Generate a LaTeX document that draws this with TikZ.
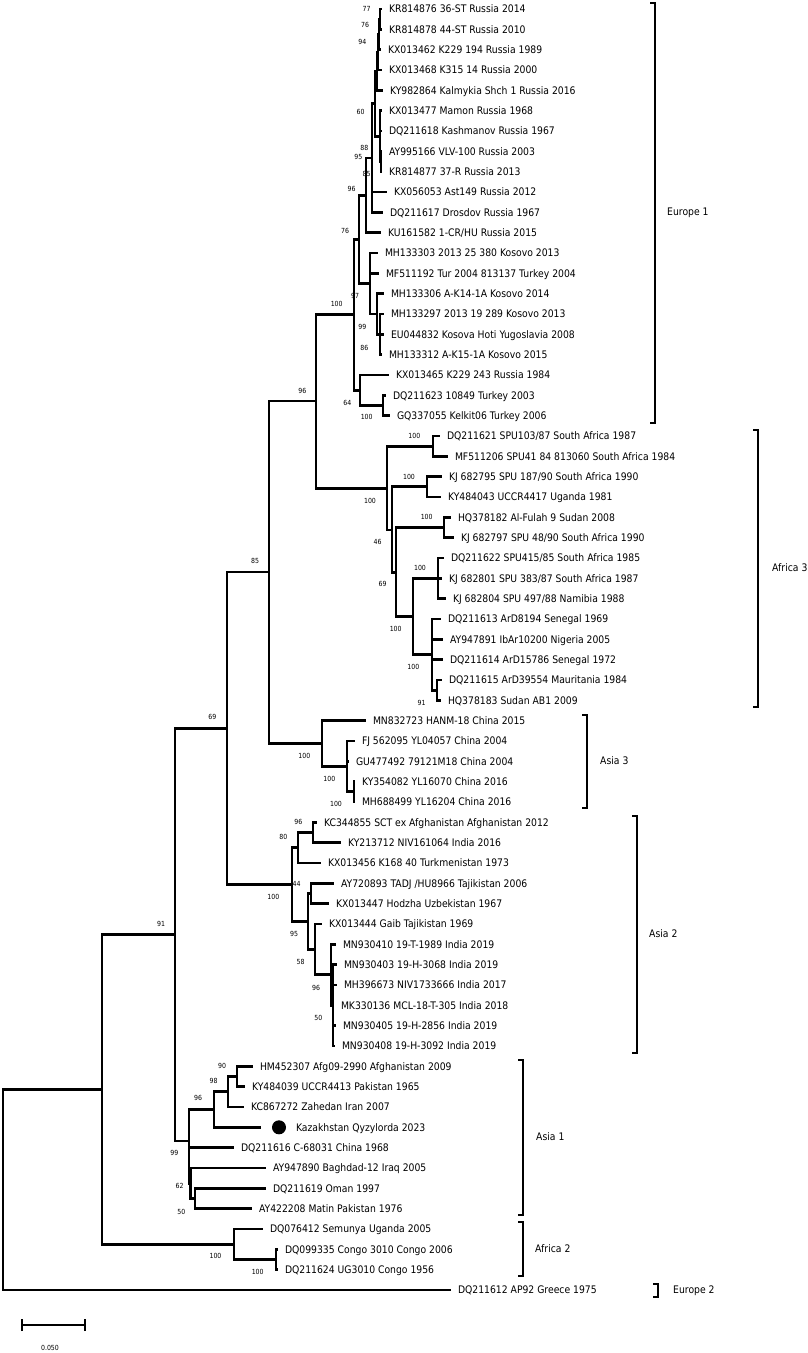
\documentclass[tikz,border=0pt]{standalone}
\usepackage{fontspec}
\newfontfamily\dvsans{DejaVu Sans}[FakeStretch=0.89]
\newcommand\treefont{\dvsans\fontsize{10.4}{12}\selectfont}
\newcommand\bootfont{\dvsans\fontsize{7}{8}\selectfont}
\newcommand\ly[1]{(9+20.333*(#1-1))}
\tikzset{
  leaf/.style={anchor=west, inner xsep=0pt, inner ysep=0pt, outer xsep=7.5pt, outer ysep=0pt,
    font=\treefont, text height=7.6pt, text depth=0pt},
  boot/.style={font=\bootfont, inner sep=0pt},
  branch/.style={line width=2.9pt},
  bracket/.style={line width=2.9pt},
  cladelab/.style={anchor=west, inner sep=0pt, font=\treefont, text height=7.6pt, text depth=0pt},
  kzdot/.style={circle, fill=black, inner sep=0pt, minimum size=14pt}
}
\begin{document}
\begin{tikzpicture}[x=1pt,y=-1pt]
\useasboundingbox (0,0) rectangle (808,1353);
\fill[white] (0,0) rectangle (808,1353);

% internal nodes
\coordinate (root) at (3,1189.7);
\coordinate (nR1) at (102,1089.5);
\coordinate (n91) at (175,934.7);
\coordinate (n69) at (227,728.3);
\coordinate (n85) at (269,572);
\coordinate (n96) at (316,401);
\coordinate (nE1) at (354,314.8);
\coordinate (nE76) at (359,239.4);
\coordinate (nE96d) at (366,195.4);
\coordinate (nE85) at (372,158);
\coordinate (nEA) at (375,103.7);
\coordinate (nS1) at (377,71.3);
\coordinate (nE94) at (378,52.2);
\coordinate (nE76b) at (379,34.4);
\coordinate (nE77) at (380,19.2);
\coordinate (nS2) at (380,136.1);
\coordinate (nE88) at (381,161.5);
\coordinate (nE97) at (370,283.5);
\coordinate (nK1) at (377,314);
\coordinate (nK2) at (380,334.3);
\coordinate (nE64) at (360,390.2);
\coordinate (nE100) at (383,405.5);
\coordinate (nAf3) at (387,488.1);
\coordinate (nA100a) at (433,446.2);
\coordinate (nA46) at (392,530);
\coordinate (nA100b) at (427,486.8);
\coordinate (nA69) at (396,572.5);
\coordinate (nA100c) at (444,527.5);
\coordinate (nA100x) at (413,616.5);
\coordinate (nA100d) at (438,578.3);
\coordinate (nA100e) at (432,654.6);
\coordinate (nA91) at (437,690.2);
\coordinate (nAs3) at (322,743.5);
\coordinate (nA3b) at (347,766.4);
\coordinate (nA3c) at (354,791.8);
\coordinate (nAs2) at (292,884.6);
\coordinate (nA80) at (298,847.7);
\coordinate (nA96) at (313,832.5);
\coordinate (nA95) at (308,921.5);
\coordinate (nA44) at (311,893.5);
\coordinate (nA58) at (315,949.4);
\coordinate (nA96b) at (331,974.8);
\coordinate (nA50) at (333,1005.3);
\coordinate (nAs1) at (189,1141);
\coordinate (nB96) at (214,1109.5);
\coordinate (nB98) at (228,1091.8);
\coordinate (nB90) at (237,1076.5);
\coordinate (nB62) at (190.5,1183.3);
\coordinate (nB50) at (195,1198.5);
\coordinate (nAf2) at (234,1244.3);
\coordinate (nC100) at (276,1259.5);

% leaves
\node[leaf] (L1) at (381.5,{\ly{1}}) {KR814876 36-ST Russia 2014};
\node[leaf] (L2) at (381.5,{\ly{2}}) {KR814878 44-ST Russia 2010};
\node[leaf] (L3) at (380.5,{\ly{3}}) {KX013462 K229 194 Russia 1989};
\node[leaf] (L4) at (381.5,{\ly{4}}) {KX013468 K315 14 Russia 2000};
\node[leaf] (L5) at (382.5,{\ly{5}}) {KY982864 Kalmykia Shch 1 Russia 2016};
\node[leaf] (L6) at (381.5,{\ly{6}}) {KX013477 Mamon Russia 1968};
\node[leaf] (L7) at (381.5,{\ly{7}}) {DQ211618 Kashmanov Russia 1967};
\node[leaf] (L8) at (381.5,{\ly{8}}) {AY995166 VLV-100 Russia 2003};
\node[leaf] (L9) at (381.5,{\ly{9}}) {KR814877 37-R Russia 2013};
\node[leaf] (L10) at (386.5,{\ly{10}}) {KX056053 Ast149 Russia 2012};
\node[leaf] (L11) at (382.5,{\ly{11}}) {DQ211617 Drosdov Russia 1967};
\node[leaf] (L12) at (380.5,{\ly{12}}) {KU161582 1-CR/HU Russia 2015};
\node[leaf] (L13) at (377.5,{\ly{13}}) {MH133303 2013 25 380 Kosovo 2013};
\node[leaf] (L14) at (378.5,{\ly{14}}) {MF511192 Tur 2004 813137 Turkey 2004};
\node[leaf] (L15) at (383.5,{\ly{15}}) {MH133306 A-K14-1A Kosovo 2014};
\node[leaf] (L16) at (383.5,{\ly{16}}) {MH133297 2013 19 289 Kosovo 2013};
\node[leaf] (L17) at (383.5,{\ly{17}}) {EU044832 Kosova Hoti Yugoslavia 2008};
\node[leaf] (L18) at (381.5,{\ly{18}}) {MH133312 A-K15-1A Kosovo 2015};
\node[leaf] (L19) at (388.5,{\ly{19}}) {KX013465 K229 243 Russia 1984};
\node[leaf] (L20) at (385.5,{\ly{20}}) {DQ211623 10849 Turkey 2003};
\node[leaf] (L21) at (389.5,{\ly{21}}) {GQ337055 Kelkit06 Turkey 2006};
\node[leaf] (L22) at (439.5,{\ly{22}}) {DQ211621 SPU103/87 South Africa 1987};
\node[leaf] (L23) at (447.5,{\ly{23}}) {MF511206 SPU41 84 813060 South Africa 1984};
\node[leaf] (L24) at (441.5,{\ly{24}}) {KJ 682795 SPU 187/90 South Africa 1990};
\node[leaf] (L25) at (440.5,{\ly{25}}) {KY484043 UCCR4417 Uganda 1981};
\node[leaf] (L26) at (450.5,{\ly{26}}) {HQ378182 Al-Fulah 9 Sudan 2008};
\node[leaf] (L27) at (453.5,{\ly{27}}) {KJ 682797 SPU 48/90 South Africa 1990};
\node[leaf] (L28) at (443.5,{\ly{28}}) {DQ211622 SPU415/85 South Africa 1985};
\node[leaf] (L29) at (441.5,{\ly{29}}) {KJ 682801 SPU 383/87 South Africa 1987};
\node[leaf] (L30) at (445.5,{\ly{30}}) {KJ 682804 SPU 497/88 Namibia 1988};
\node[leaf] (L31) at (440.5,{\ly{31}}) {DQ211613 ArD8194 Senegal 1969};
\node[leaf] (L32) at (442.5,{\ly{32}}) {AY947891 IbAr10200 Nigeria 2005};
\node[leaf] (L33) at (442.5,{\ly{33}}) {DQ211614 ArD15786 Senegal 1972};
\node[leaf] (L34) at (441.5,{\ly{34}}) {DQ211615 ArD39554 Mauritania 1984};
\node[leaf] (L35) at (440.5,{\ly{35}}) {HQ378183 Sudan AB1 2009};
\node[leaf] (L36) at (365.5,{\ly{36}}) {MN832723 HANM-18 China 2015};
\node[leaf] (L37) at (354.5,{\ly{37}}) {FJ 562095 YL04057 China 2004};
\node[leaf] (L38) at (348.5,{\ly{38}}) {GU477492 79121M18 China 2004};
\node[leaf] (L39) at (354.5,{\ly{39}}) {KY354082 YL16070 China 2016};
\node[leaf] (L40) at (354.5,{\ly{40}}) {MH688499 YL16204 China 2016};
\node[leaf] (L41) at (316.5,{\ly{41}}) {KC344855 SCT ex Afghanistan Afghanistan 2012};
\node[leaf] (L42) at (340.5,{\ly{42}}) {KY213712 NIV161064 India 2016};
\node[leaf] (L43) at (320.5,{\ly{43}}) {KX013456 K168 40 Turkmenistan 1973};
\node[leaf] (L44) at (333.5,{\ly{44}}) {AY720893 TADJ /HU8966 Tajikistan 2006};
\node[leaf] (L45) at (328.5,{\ly{45}}) {KX013447 Hodzha Uzbekistan 1967};
\node[leaf] (L46) at (321.5,{\ly{46}}) {KX013444 Gaib Tajikistan 1969};
\node[leaf] (L47) at (335.5,{\ly{47}}) {MN930410 19-T-1989 India 2019};
\node[leaf] (L48) at (336.5,{\ly{48}}) {MN930403 19-H-3068 India 2019};
\node[leaf] (L49) at (336.5,{\ly{49}}) {MH396673 NIV1733666 India 2017};
\node[leaf] (L50) at (333.5,{\ly{50}}) {MK330136 MCL-18-T-305 India 2018};
\node[leaf] (L51) at (335.5,{\ly{51}}) {MN930405 19-H-2856 India 2019};
\node[leaf] (L52) at (334.5,{\ly{52}}) {MN930408 19-H-3092 India 2019};
\node[leaf] (L53) at (252.5,{\ly{53}}) {HM452307 Afg09-2990 Afghanistan 2009};
\node[leaf] (L54) at (244.5,{\ly{54}}) {KY484039 UCCR4413 Pakistan 1965};
\node[leaf] (L55) at (243.5,{\ly{55}}) {KC867272 Zahedan Iran 2007};
\coordinate (kztip) at (261,{\ly{56}});
\node[kzdot] (kzdot) at (279,{\ly{56}}) {};
\node[leaf] (L56) at (288.5,{\ly{56}}) {Kazakhstan Qyzylorda 2023};
\node[leaf] (L57) at (233.5,{\ly{57}}) {DQ211616 C-68031 China 1968};
\node[leaf] (L58) at (265.5,{\ly{58}}) {AY947890 Baghdad-12 Iraq 2005};
\node[leaf] (L59) at (265.5,{\ly{59}}) {DQ211619 Oman 1997};
\node[leaf] (L60) at (251.5,{\ly{60}}) {AY422208 Matin Pakistan 1976};
\node[leaf] (L61) at (262.5,{\ly{61}}) {DQ076412 Semunya Uganda 2005};
\node[leaf] (L62) at (277.5,{\ly{62}}) {DQ099335 Congo 3010 Congo 2006};
\node[leaf] (L63) at (277.5,{\ly{63}}) {DQ211624 UG3010 Congo 1956};
\node[leaf] (L64) at (450.5,{\ly{64}}) {DQ211612 AP92 Greece 1975};

% branches
\begin{scope}[branch]
\draw (root) |- (nR1);  \draw (root) |- (L64);
\draw (nR1) |- (n91);   \draw (nR1) |- (nAf2);
\draw (n91) |- (n69);   \draw (n91) |- (nAs1);
\draw (n69) |- (n85);   \draw (n69) |- (nAs2);
\draw (n85) |- (n96);   \draw (n85) |- (nAs3);
\draw (n96) |- (nE1);   \draw (n96) |- (nAf3);
% Europe 1
\draw (nE1) |- (nE76);  \draw (nE1) |- (nE64);
\draw (nE76) |- (nE96d); \draw (nE76) |- (nE97);
\draw (nE96d) |- (nE85); \draw (nE96d) |- (L12);
\draw (nE85) |- (nEA);  \draw (nE85) |- (L10); \draw (nE85) |- (L11);
\draw (nEA) |- (nS1);   \draw (nEA) |- (nS2);
\draw (nS1) |- (nE94);  \draw (nS1) |- (L5);
\draw (nE94) |- (nE76b); \draw (nE94) |- (L4);
\draw (nE76b) |- (nE77); \draw (nE76b) |- (L3);
\draw (nE77) |- (L1);   \draw (nE77) |- (L2);
\draw (nS2) |- (L6);    \draw (nS2) |- (L7); \draw (nS2) |- (nE88);
\draw (nE88) |- (L8);   \draw (nE88) |- (L9);
\draw (nE97) |- (L13);  \draw (nE97) |- (L14); \draw (nE97) |- (nK1);
\draw (nK1) |- (L15);   \draw (nK1) |- (nK2);
\draw (nK2) |- (L16);   \draw (nK2) |- (L17); \draw (nK2) |- (L18);
\draw (nE64) |- (L19);  \draw (nE64) |- (nE100);
\draw (nE100) |- (L20); \draw (nE100) |- (L21);
% Africa 3
\draw (nAf3) |- (nA100a); \draw (nAf3) |- (nA46);
\draw (nA100a) |- (L22); \draw (nA100a) |- (L23);
\draw (nA46) |- (nA100b); \draw (nA46) |- (nA69);
\draw (nA100b) |- (L24); \draw (nA100b) |- (L25);
\draw (nA69) |- (nA100c); \draw (nA69) |- (nA100x);
\draw (nA100c) |- (L26); \draw (nA100c) |- (L27);
\draw (nA100x) |- (nA100d); \draw (nA100x) |- (nA100e);
\draw (nA100d) |- (L28); \draw (nA100d) |- (L29); \draw (nA100d) |- (L30);
\draw (nA100e) |- (L31); \draw (nA100e) |- (L32); \draw (nA100e) |- (L33); \draw (nA100e) |- (nA91);
\draw (nA91) |- (L34);  \draw (nA91) |- (L35);
% Asia 3
\draw (nAs3) |- (L36);  \draw (nAs3) |- (nA3b);
\draw (nA3b) |- (L37);  \draw (nA3b) |- (L38); \draw (nA3b) |- (nA3c);
\draw (nA3c) |- (L39);  \draw (nA3c) |- (L40);
% Asia 2
\draw (nAs2) |- (nA80); \draw (nAs2) |- (nA95);
\draw (nA80) |- (nA96); \draw (nA80) |- (L43);
\draw (nA96) |- (L41);  \draw (nA96) |- (L42);
\draw (nA95) |- (nA44); \draw (nA95) |- (nA58);
\draw (nA44) |- (L44);  \draw (nA44) |- (L45);
\draw (nA58) |- (L46);  \draw (nA58) |- (nA96b);
\draw (nA96b) |- (L47); \draw (nA96b) |- (nA50);
\draw (nA50) |- (L48);  \draw (nA50) |- (L49); \draw (nA50) |- (L50); \draw (nA50) |- (L51); \draw (nA50) |- (L52);
% Asia 1
\draw (nAs1) |- (nB96); \draw (nAs1) |- (L57); \draw (nAs1) |- (nB62);
\draw (nB62) |- (L58);  \draw (nB62) |- (nB50);
\draw (nB96) |- (nB98); \draw (nB96) |- (kztip);
\draw (nB98) |- (nB90); \draw (nB98) |- (L55);
\draw (nB90) |- (L53);  \draw (nB90) |- (L54);
\draw (nB50) |- (L59);  \draw (nB50) |- (L60);
% Africa 2
\draw (nAf2) |- (L61);  \draw (nAf2) |- (nC100);
\draw (nC100) |- (L62); \draw (nC100) |- (L63);
\end{scope}

% bootstrap values
\node[boot] (b1) at (366.7,9) {77};
\node[boot] (b2) at (365,25) {76};
\node[boot] (b3) at (362.3,42) {94};
\node[boot] (b4) at (360.7,111.7) {60};
\node[boot] (b5) at (364.3,148.3) {88};
\node[boot] (b6) at (358.3,156.7) {95};
\node[boot] (b7) at (366.7,174) {85};
\node[boot] (b8) at (351.7,189) {96};
\node[boot] (b9) at (345,231) {76};
\node[boot] (b10) at (336.7,304.3) {100};
\node[boot] (b11) at (355,296) {97};
\node[boot] (b12) at (362.3,326.7) {99};
\node[boot] (b13) at (364.3,347.7) {86};
\node[boot] (b14) at (347.3,402.7) {64};
\node[boot] (b15) at (366.7,416.7) {100};
\node[boot] (b16) at (302.3,390.7) {96};
\node[boot] (b17) at (255,561.4) {85};
\node[boot] (b18) at (212.3,717.1) {69};
\node[boot] (b19) at (304.3,755.5) {100};
\node[boot] (b20) at (370,500.7) {100};
\node[boot] (b21) at (414.3,436) {100};
\node[boot] (b22) at (409,476.7) {100};
\node[boot] (b23) at (377.7,542.3) {46};
\node[boot] (b24) at (426.7,517.3) {100};
\node[boot] (b25) at (382.7,584.3) {69};
\node[boot] (b26) at (420,568.3) {100};
\node[boot] (b27) at (395.7,629) {100};
\node[boot] (b28) at (413.3,666.7) {100};
\node[boot] (b29) at (421.7,703.3) {91};
\node[boot] (b30) at (329.3,779) {100};
\node[boot] (b31) at (336,804) {100};
\node[boot] (b32) at (298.3,822.3) {96};
\node[boot] (b33) at (283.3,836.7) {80};
\node[boot] (b34) at (296.7,884) {44};
\node[boot] (b35) at (273.3,897.3) {100};
\node[boot] (b36) at (294,934.3) {95};
\node[boot] (b37) at (300.7,962.3) {58};
\node[boot] (b38) at (316,987.7) {96};
\node[boot] (b39) at (318.3,1018.3) {50};
\node[boot] (b40) at (161,924) {91};
\node[boot] (b41) at (222,1066) {90};
\node[boot] (b42) at (213.6,1081) {98};
\node[boot] (b43) at (198.2,1098.3) {96};
\node[boot] (b44) at (174.3,1153.3) {99};
\node[boot] (b45) at (179.6,1185.7) {62};
\node[boot] (b46) at (181.4,1211.7) {50};
\node[boot] (b47) at (215.5,1256) {100};
\node[boot] (b48) at (257.7,1272.3) {100};

% clade brackets
\begin{scope}[bracket]
\draw (650,3) -- (655,3) -- (655,423) -- (650,423);
\draw (753,430) -- (758,430) -- (758,707) -- (753,707);
\draw (582,715) -- (587,715) -- (587,808) -- (582,808);
\draw (632,816) -- (637,816) -- (637,1053) -- (632,1053);
\draw (518,1060) -- (523,1060) -- (523,1215) -- (518,1215);
\draw (518,1222) -- (523,1222) -- (523,1276) -- (518,1276);
\draw (653,1284) -- (658,1284) -- (658,1297) -- (653,1297);
\end{scope}
\node[cladelab] (c1) at (667,212) {Europe 1};
\node[cladelab] (c2) at (772,568) {Africa 3};
\node[cladelab] (c3) at (600,761) {Asia 3};
\node[cladelab] (c4) at (649,934) {Asia 2};
\node[cladelab] (c5) at (536,1137) {Asia 1};
\node[cladelab] (c6) at (535,1249) {Africa 2};
\node[cladelab] (c7) at (673,1290) {Europe 2};

% scale bar
\coordinate (sb1) at (22,1325);
\coordinate (sb2) at (85,1325);
\draw[branch] (sb1) -- (sb2);
\draw[branch] ([yshift=-6pt]sb1) -- ([yshift=6pt]sb1);
\draw[branch] ([yshift=-6pt]sb2) -- ([yshift=6pt]sb2);
\node[boot] (sblab) at (50,1348) {0.050};
\end{tikzpicture}
\end{document}
